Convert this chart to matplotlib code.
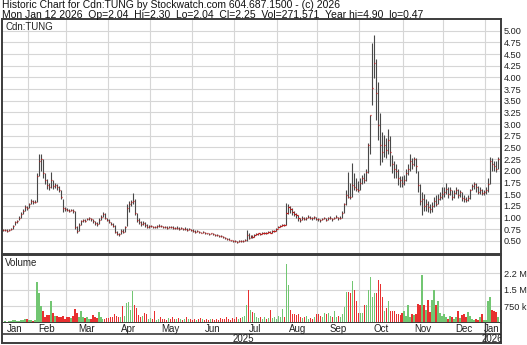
import matplotlib
matplotlib.use("Agg")
import matplotlib.pyplot as plt
import numpy as np
import pandas as pd

plt.rcParams["font.family"] = ["Liberation Sans", "DejaVu Sans"]

# TSX-V trading days shown on the chart
HOLIDAYS = ["2025-02-17", "2025-04-18", "2025-05-19", "2025-07-01", "2025-08-04",
            "2025-09-01", "2025-10-13", "2025-12-25", "2025-12-26", "2026-01-01"]
dates = pd.bdate_range("2025-01-15", "2026-01-12", freq="C", holidays=HOLIDAYS)

# daily close / high / low, one row per month
close = [
    0.73, 0.74, 0.72, 0.74, 0.75, 0.82, 0.90, 0.92, 1.00, 1.08, 1.15, 1.22, 1.20,
    1.28, 1.36, 1.33, 1.34, 1.90, 2.20, 2.25, 1.95, 1.80, 1.70, 1.66, 1.80, 1.68, 1.70, 1.65, 1.58, 1.44, 1.20, 1.18,
    1.17, 1.15, 1.16, 1.14, 0.80, 0.72, 0.85, 0.92, 0.94, 0.93, 0.97, 0.98, 0.96, 0.92, 0.88, 0.86, 0.95, 1.02, 1.08, 1.00, 0.95,
    0.90, 0.86, 0.83, 0.70, 0.65, 0.64, 0.72, 0.70, 0.80, 1.20, 1.30, 1.33, 1.35, 1.10, 0.95, 0.90, 0.87, 0.88, 0.84, 0.80, 0.81,
    0.82, 0.80, 0.79, 0.81, 0.83, 0.82, 0.80, 0.79, 0.78, 0.80, 0.79, 0.78, 0.77, 0.78, 0.76, 0.77, 0.75, 0.76, 0.74, 0.75, 0.73,
    0.72, 0.70, 0.71, 0.69, 0.68, 0.69, 0.67, 0.66, 0.65, 0.66, 0.64, 0.63, 0.62, 0.61, 0.60, 0.58, 0.56, 0.55, 0.53, 0.51, 0.50,
    0.49, 0.48, 0.50, 0.49, 0.50, 0.52, 0.62, 0.57, 0.60, 0.58, 0.62, 0.65, 0.66, 0.64, 0.67, 0.68, 0.67, 0.70, 0.68, 0.71, 0.72, 0.75,
    0.80, 0.82, 0.85, 0.84, 1.10, 1.22, 1.18, 1.12, 1.08, 1.05, 0.98, 0.95, 1.00, 0.97, 0.98, 1.02, 1.00, 0.98, 1.01, 0.97,
    0.96, 0.94, 0.97, 0.99, 0.95, 0.98, 1.00, 0.96, 0.99, 1.02, 0.98, 1.00, 1.10, 1.28, 1.48, 1.45, 1.44, 1.70, 1.65, 1.62, 1.60,
    1.75, 1.85, 1.80, 1.97, 2.55, 3.19, 3.77, 4.30, 3.66, 2.98, 2.55, 2.40, 2.55, 2.45, 2.65, 2.40, 2.15, 2.05, 2.00, 1.85, 1.80, 1.75,
    1.80, 1.95, 2.05, 2.20, 2.15, 2.25, 2.10, 1.70, 1.35, 1.40, 1.25, 1.30, 1.22, 1.18, 1.25, 1.35, 1.30, 1.40, 1.45, 1.50,
    1.55, 1.62, 1.50, 1.58, 1.45, 1.52, 1.60, 1.48, 1.55, 1.42, 1.40, 1.38, 1.42, 1.58, 1.68, 1.72, 1.65, 1.55, 1.60, 1.52, 1.55,
    1.58, 1.72, 2.20, 2.15, 2.10, 2.04, 2.25,
]
high = [
    0.75, 0.76, 0.75, 0.76, 0.78, 0.85, 0.93, 0.95, 1.04, 1.12, 1.18, 1.26, 1.25,
    1.32, 1.40, 1.38, 1.37, 1.95, 2.36, 2.36, 2.25, 1.95, 1.82, 1.75, 1.98, 1.80, 1.75, 1.72, 1.68, 1.58, 1.40, 1.23,
    1.21, 1.19, 1.19, 1.18, 1.14, 0.82, 0.88, 0.95, 0.97, 0.96, 1.00, 1.01, 0.99, 0.96, 0.92, 0.90, 0.98, 1.05, 1.12, 1.09, 1.00,
    0.96, 0.91, 0.88, 0.84, 0.72, 0.68, 0.75, 0.76, 0.82, 1.30, 1.36, 1.38, 1.52, 1.40, 1.10, 0.98, 0.92, 0.92, 0.90, 0.86, 0.84,
    0.85, 0.83, 0.82, 0.84, 0.86, 0.85, 0.83, 0.82, 0.81, 0.83, 0.82, 0.81, 0.80, 0.81, 0.79, 0.80, 0.78, 0.79, 0.77, 0.78, 0.76,
    0.75, 0.73, 0.73, 0.72, 0.70, 0.71, 0.70, 0.68, 0.67, 0.68, 0.67, 0.65, 0.64, 0.63, 0.62, 0.61, 0.58, 0.57, 0.56, 0.53, 0.52,
    0.51, 0.50, 0.52, 0.51, 0.52, 0.55, 0.73, 0.66, 0.63, 0.62, 0.64, 0.67, 0.68, 0.67, 0.69, 0.70, 0.69, 0.72, 0.71, 0.73, 0.74, 0.78,
    0.82, 0.84, 0.87, 0.86, 1.31, 1.30, 1.25, 1.20, 1.14, 1.10, 1.05, 0.99, 1.04, 1.01, 1.01, 1.05, 1.04, 1.02, 1.04, 1.01,
    0.99, 0.97, 1.00, 1.02, 0.99, 1.01, 1.04, 1.00, 1.02, 1.05, 1.02, 1.03, 1.15, 1.32, 1.60, 1.97, 1.75, 2.16, 1.95, 1.85, 1.78,
    1.85, 1.92, 1.95, 2.05, 2.60, 3.20, 4.73, 4.90, 4.40, 3.90, 3.23, 2.83, 2.76, 2.70, 2.90, 2.75, 2.33, 2.20, 2.15, 2.05, 1.90, 1.88,
    1.92, 2.05, 2.15, 2.37, 2.27, 2.30, 2.28, 2.00, 1.72, 1.55, 1.50, 1.40, 1.35, 1.30, 1.33, 1.45, 1.48, 1.50, 1.55, 1.65,
    1.65, 1.73, 1.65, 1.66, 1.60, 1.58, 1.65, 1.62, 1.60, 1.55, 1.48, 1.45, 1.48, 1.62, 1.72, 1.76, 1.73, 1.68, 1.66, 1.62, 1.60,
    1.65, 1.85, 2.30, 2.28, 2.22, 2.20, 2.30,
]
low = [
    0.71, 0.72, 0.70, 0.71, 0.73, 0.75, 0.84, 0.89, 0.95, 1.00, 1.08, 1.15, 1.17,
    1.20, 1.30, 1.30, 1.31, 1.33, 1.90, 2.00, 1.85, 1.72, 1.62, 1.60, 1.64, 1.62, 1.64, 1.60, 1.54, 1.40, 1.12, 1.14,
    1.13, 1.12, 1.13, 1.10, 0.76, 0.68, 0.72, 0.85, 0.91, 0.90, 0.94, 0.95, 0.93, 0.89, 0.85, 0.83, 0.86, 0.95, 1.02, 0.96, 0.92,
    0.88, 0.84, 0.80, 0.68, 0.62, 0.61, 0.64, 0.68, 0.70, 0.82, 1.12, 1.25, 1.28, 1.05, 0.90, 0.86, 0.83, 0.84, 0.80, 0.77, 0.78,
    0.79, 0.78, 0.77, 0.78, 0.80, 0.80, 0.78, 0.77, 0.76, 0.77, 0.77, 0.76, 0.75, 0.76, 0.74, 0.75, 0.73, 0.74, 0.72, 0.73, 0.71,
    0.70, 0.68, 0.69, 0.67, 0.66, 0.67, 0.65, 0.64, 0.63, 0.64, 0.62, 0.61, 0.60, 0.59, 0.58, 0.56, 0.54, 0.53, 0.51, 0.49, 0.48,
    0.47, 0.46, 0.48, 0.47, 0.48, 0.49, 0.50, 0.55, 0.56, 0.56, 0.58, 0.62, 0.63, 0.62, 0.64, 0.65, 0.65, 0.67, 0.66, 0.68, 0.69, 0.71,
    0.77, 0.79, 0.82, 0.81, 0.85, 1.08, 1.10, 1.06, 1.03, 1.00, 0.92, 0.90, 0.94, 0.94, 0.95, 0.98, 0.97, 0.95, 0.97, 0.94,
    0.93, 0.91, 0.94, 0.96, 0.92, 0.95, 0.97, 0.93, 0.96, 0.99, 0.95, 0.97, 1.00, 1.10, 1.26, 1.42, 1.40, 1.45, 1.58, 1.56, 1.55,
    1.60, 1.72, 1.75, 1.78, 1.95, 2.37, 3.40, 3.98, 3.09, 2.65, 2.12, 2.18, 2.30, 2.27, 2.35, 2.10, 1.95, 1.84, 1.85, 1.70, 1.65, 1.65,
    1.70, 1.78, 1.92, 2.00, 2.05, 2.10, 1.95, 1.55, 1.26, 1.05, 1.15, 1.15, 1.12, 1.10, 1.12, 1.22, 1.25, 1.28, 1.38, 1.40,
    1.45, 1.50, 1.42, 1.48, 1.38, 1.42, 1.50, 1.42, 1.44, 1.36, 1.34, 1.33, 1.35, 1.40, 1.60, 1.62, 1.55, 1.50, 1.50, 1.48, 1.48,
    1.50, 1.55, 1.72, 2.00, 2.00, 1.98, 2.04,
]
# daily volume, thousands of shares
volume_k = [
    60, 90, 40, 110, 80, 120, 140, 90, 110, 130, 150, 200, 180,
    120, 150, 100, 130, 1870, 1370, 790, 530, 250, 380, 380, 1000, 450, 300, 320, 280, 250, 300, 200,
    250, 280, 230, 300, 650, 450, 260, 530, 250, 240, 270, 200, 200, 380, 250, 220, 500, 260, 200, 180, 230,
    240, 280, 250, 420, 300, 260, 250, 760, 320, 900, 970, 600, 1460, 800, 700, 380, 250, 300, 450, 420, 200,
    220, 180, 550, 150, 200, 260, 180, 200, 150, 220, 170, 250, 190, 160, 230, 200, 140, 180, 250, 160, 200,
    150, 200, 130, 170, 220, 160, 140, 190, 120, 160, 200, 150, 180, 130, 220, 170, 200, 260, 180, 150, 230,
    200, 260, 180, 220, 250, 300, 830, 1500, 600, 500, 450, 250, 220, 250, 180, 260, 200, 240, 600, 220, 250, 200,
    300, 250, 650, 280, 2680, 1730, 600, 400, 420, 380, 400, 250, 220, 260, 300, 200, 240, 180, 260, 400,
    420, 300, 250, 450, 420, 460, 300, 250, 530, 280, 300, 260, 400, 720, 1400, 1400, 1370, 1880, 1500, 1000, 450,
    450, 450, 800, 800, 1500, 2100, 1170, 1350, 1350, 1950, 1750, 1170, 550, 700, 1000, 550, 550, 550, 400, 400, 380, 450,
    530, 300, 800, 250, 400, 350, 400, 850, 800, 2180, 800, 600, 1050, 500, 1050, 1480, 800, 1000, 450, 300,
    400, 250, 200, 300, 250, 200, 280, 550, 220, 350, 400, 250, 500, 300, 200, 150, 180, 120, 250, 400, 120,
    150, 1000, 1170, 600, 550, 500, 272,
]

price_ticks = np.arange(0.50, 5.01, 0.25)
vol_ticks_k = [750, 1500, 2250]
vol_tick_labels = ["750 k", "1.5 M", "2.2 M"]

header_1 = "Historic Chart for Cdn:TUNG by Stockwatch.com 604.687.1500 - (c) 2026"
header_2 = ("Mon Jan 12 2026  Op=2.04  Hi=2.30  Lo=2.04  Cl=2.25  "
            "Vol=271,571  Year hi=4.90  lo=0.47")

n = len(dates)
assert len(close) == len(high) == len(low) == len(volume_k) == n, (
    n, len(close), len(high), len(low), len(volume_k))

close = np.array(close)
high = np.array(high)
low = np.array(low)
volume_k = np.array(volume_k)
idx = np.arange(n)

W, H = 527, 345
fig = plt.figure(figsize=(W / 100, H / 100), dpi=100)


def rect(x0, y0, x1, y1):
    return [x0 / W, 1 - y1 / H, (x1 - x0) / W, (y1 - y0) / H]


ax_p = fig.add_axes(rect(2, 19, 501, 254))
ax_v = fig.add_axes(rect(2, 255, 501, 323))
ax_b = fig.add_axes(rect(2, 323, 501, 343))

frame = "#3c3c3c"
grid = "#d6d6d6"
xlim = (-0.5, n + 0.5)

# month boundaries from the dates
month_key = dates.to_period("M")
starts = np.flatnonzero(np.r_[True, np.asarray(month_key[1:] != month_key[:-1])])
ends = np.r_[starts[1:], n]

for ax in (ax_p, ax_v):
    ax.set_xlim(*xlim)
    ax.set_xticks([])
    for s in starts[1:]:
        ax.axvline(s - 0.5, color=grid, lw=0.8, zorder=0)
    for sp in ax.spines.values():
        sp.set_color(frame)
        sp.set_linewidth(1.4)
    ax.yaxis.tick_right()
    ax.tick_params(axis="y", length=0, pad=2, labelsize=6.6, colors="#222222")

# price panel
ax_p.set_ylim(0.22, 5.25)
ax_p.set_yticks(price_ticks)
ax_p.set_yticklabels([f"{t:.2f}" for t in price_ticks])
for t in price_ticks:
    ax_p.axhline(t, color=grid, lw=0.8, zorder=0)
ax_p.vlines(idx, low, high, color="#484848", lw=0.8, zorder=2)
ax_p.hlines(close, idx, idx + 0.55, color="#d01818", lw=0.9, zorder=3)
ax_p.text(3 / 499, 1 - 3 / 235, "Cdn:TUNG", transform=ax_p.transAxes,
          ha="left", va="top", fontsize=7, color="#222222")

# volume panel
up = np.r_[True, close[1:] >= close[:-1]]
bar_colors = np.where(up, "#72c672", "#e83030")
ax_v.set_ylim(0, 3080)
ax_v.set_yticks(vol_ticks_k)
ax_v.set_yticklabels(vol_tick_labels)
for t in vol_ticks_k:
    ax_v.axhline(t, color=grid, lw=0.8, zorder=0)
ax_v.bar(idx, volume_k, width=0.7, color=bar_colors, linewidth=0, zorder=2)
ax_v.text(3 / 499, 1 - 3 / 68, "Volume", transform=ax_v.transAxes,
          ha="left", va="top", fontsize=7, color="#222222")

# month / year band
ax_b.set_xlim(*xlim)
ax_b.set_ylim(20, 0)
ax_b.set_xticks([])
ax_b.set_yticks([])
ax_b.spines["top"].set_visible(False)
for sp in ("left", "right", "bottom"):
    ax_b.spines[sp].set_color(frame)
    ax_b.spines[sp].set_linewidth(1.4)
ax_b.axhline(11, color=frame, lw=1.2)
for s, e in zip(starts, ends):
    ax_b.text((s + e - 1) / 2, 6.5, dates[s].strftime("%b"), ha="center", va="center",
              fontsize=7, color="#222222", clip_on=True)
years = dates.year
ystarts = np.flatnonzero(np.r_[True, years[1:] != years[:-1]])
yends = np.r_[ystarts[1:], n]
for s, e in zip(ystarts, yends):
    ax_b.text((s + e - 1) / 2, 16, str(years[s]), ha="center", va="center",
              fontsize=7, color="#222222", clip_on=True)
for s in ystarts[1:]:
    ax_b.axvline(s - 0.5, color=frame, lw=1.0)

fig.text(2 / W, 1 - 0.5 / H, header_1, ha="left", va="top", fontsize=7.5, color="#111111")
fig.text(2 / W, 1 - 9.5 / H, header_2, ha="left", va="top", fontsize=7.5, color="#111111")

fig.savefig("out.png", dpi=100)
